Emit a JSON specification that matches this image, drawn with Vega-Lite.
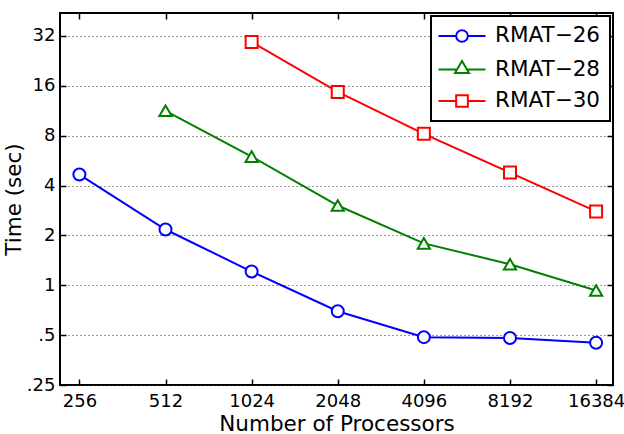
{
  "$schema": "https://vega.github.io/schema/vega-lite/v6.json",
  "width": 553,
  "height": 372,
  "autosize": "none",
  "padding": {"left": 60, "top": 13, "right": 11, "bottom": 49},
  "background": "white",
  "config": {
    "font": "DejaVu Sans",
    "view": {"stroke": "black", "strokeWidth": 2},
    "axis": {
      "domain": false,
      "tickColor": "black",
      "tickWidth": 1.5,
      "tickSize": -6,
      "labelColor": "black",
      "titleColor": "black",
      "titleFontWeight": "normal",
      "labelFontSize": 18,
      "titleFontSize": 21.5,
      "labelPadding": 11
    },
    "legend": {
      "title": null,
      "orient": "top-right",
      "offset": 3,
      "strokeColor": "black",
      "strokeWidth": 2,
      "fillColor": "white",
      "padding": 9,
      "labelFontSize": 21.5,
      "labelColor": "black",
      "symbolSize": 400,
      "symbolStrokeWidth": 2,
      "symbolOpacity": 1,
      "symbolOffset": 11,
      "labelOffset": 22,
      "rowPadding": 9.5
    }
  },
  "data": {
    "values": [
      {"p": 256, "t": 4.66, "s": "RMAT−26"},
      {"p": 512, "t": 2.17, "s": "RMAT−26"},
      {"p": 1024, "t": 1.21, "s": "RMAT−26"},
      {"p": 2048, "t": 0.697, "s": "RMAT−26"},
      {"p": 4096, "t": 0.486, "s": "RMAT−26"},
      {"p": 8192, "t": 0.48, "s": "RMAT−26"},
      {"p": 16384, "t": 0.45, "s": "RMAT−26"},
      {"p": 512, "t": 11.3, "s": "RMAT−28"},
      {"p": 1024, "t": 5.98, "s": "RMAT−28"},
      {"p": 2048, "t": 3.03, "s": "RMAT−28"},
      {"p": 4096, "t": 1.79, "s": "RMAT−28"},
      {"p": 8192, "t": 1.34, "s": "RMAT−28"},
      {"p": 16384, "t": 0.93, "s": "RMAT−28"},
      {"p": 1024, "t": 29.4, "s": "RMAT−30"},
      {"p": 2048, "t": 14.7, "s": "RMAT−30"},
      {"p": 4096, "t": 8.2, "s": "RMAT−30"},
      {"p": 8192, "t": 4.79, "s": "RMAT−30"},
      {"p": 16384, "t": 2.79, "s": "RMAT−30"}
    ]
  },
  "resolve": {"axis": {"x": "independent", "y": "independent"}},
  "layer": [
    {
      "transform": [{"filter": "datum.s == 'RMAT−26'"}],
      "mark": {"type": "line", "strokeWidth": 2, "color": "#0000ff"},
      "encoding": {
        "x": {
          "field": "p", "type": "quantitative",
          "scale": {"type": "log", "base": 2, "domain": [219, 18770], "nice": false},
          "axis": {"values": [256, 512, 1024, 2048, 4096, 8192, 16384], "format": "d", "title": "Number of Processors", "grid": false, "titlePadding": 3, "labelPadding": 13}
        },
        "y": {
          "field": "t", "type": "quantitative",
          "scale": {"type": "log", "base": 2, "domain": [0.25, 44], "nice": false},
          "axis": {
            "values": [0.25, 0.5, 1, 2, 4, 8, 16, 32],
            "labelExpr": "datum.value == 0.5 ? '.5' : datum.value == 0.25 ? '.25' : datum.value",
            "title": "Time (sec)",
            "grid": true, "gridColor": "#333333", "gridDash": [1, 3], "gridWidth": 1,
            "titlePadding": 1
          }
        }
      }
    },
    {
      "transform": [{"filter": "datum.s == 'RMAT−28'"}],
      "mark": {"type": "line", "strokeWidth": 2, "color": "#008000"},
      "encoding": {
        "x": {"field": "p", "type": "quantitative", "axis": null},
        "y": {"field": "t", "type": "quantitative", "axis": null}
      }
    },
    {
      "transform": [{"filter": "datum.s == 'RMAT−30'"}],
      "mark": {"type": "line", "strokeWidth": 2, "color": "#ff0000"},
      "encoding": {
        "x": {"field": "p", "type": "quantitative", "axis": null},
        "y": {"field": "t", "type": "quantitative", "axis": null}
      }
    },
    {
      "transform": [{"filter": "datum.s == 'RMAT−26'"}],
      "mark": {"type": "point", "shape": "circle", "filled": false, "fill": "white", "stroke": "#0000ff", "strokeWidth": 2, "size": 144, "opacity": 1},
      "encoding": {
        "x": {"field": "p", "type": "quantitative", "axis": null},
        "y": {"field": "t", "type": "quantitative", "axis": null}
      }
    },
    {
      "transform": [{"filter": "datum.s == 'RMAT−28'"}],
      "mark": {"type": "point", "shape": "triangle-up", "filled": false, "fill": "white", "stroke": "#008000", "strokeWidth": 2, "size": 150, "opacity": 1},
      "encoding": {
        "x": {"field": "p", "type": "quantitative", "axis": null},
        "y": {"field": "t", "type": "quantitative", "axis": null}
      }
    },
    {
      "transform": [{"filter": "datum.s == 'RMAT−30'"}],
      "mark": {"type": "point", "shape": "square", "filled": false, "fill": "white", "stroke": "#ff0000", "strokeWidth": 2, "size": 144, "opacity": 1},
      "encoding": {
        "x": {"field": "p", "type": "quantitative", "axis": null},
        "y": {"field": "t", "type": "quantitative", "axis": null}
      }
    },
    {
      "mark": {"type": "point", "filled": false, "strokeWidth": 2, "size": 400, "opacity": 0},
      "encoding": {
        "x": {
          "field": "p", "type": "quantitative",
          "axis": {"orient": "top", "values": [256, 512, 1024, 2048, 4096, 8192, 16384], "labels": false, "title": null, "grid": false}
        },
        "y": {
          "field": "t", "type": "quantitative",
          "axis": {"orient": "right", "values": [0.25, 0.5, 1, 2, 4, 8, 16, 32], "labels": false, "title": null, "grid": false}
        },
        "color": {
          "field": "s", "type": "nominal",
          "scale": {"domain": ["RMAT−26", "RMAT−28", "RMAT−30"], "range": ["#0000ff", "#008000", "#ff0000"]}
        },
        "shape": {
          "field": "s", "type": "nominal",
          "scale": {
            "domain": ["RMAT−26", "RMAT−28", "RMAT−30"],
            "range": [
              "M-2.35,0H-0.585M0.585,0H2.35M0.585,0A0.585,0.585 0 1 1 -0.585,0A0.585,0.585 0 1 1 0.585,0Z",
              "M-2.35,0H-0.5M0.5,0H2.35M0,-0.85L0.7,0.35H-0.7Z",
              "M-2.35,0H-0.585M0.585,0H2.35M-0.585,-0.585H0.585V0.585H-0.585Z"
            ]
          }
        }
      }
    }
  ]
}
